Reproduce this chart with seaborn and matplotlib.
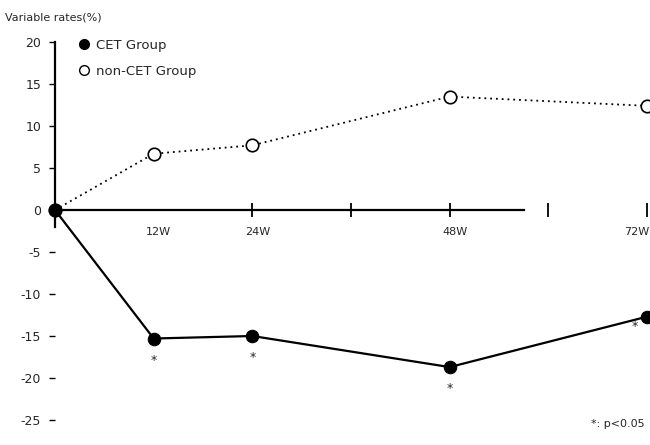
import matplotlib
matplotlib.use("Agg")
import matplotlib.pyplot as plt
from matplotlib.lines import Line2D
import seaborn as sns
import pandas as pd

# Follow-up weeks and relative change (%) for each group
weeks = [0, 12, 24, 48, 72]
week_labels = ["12W", "24W", "48W", "72W"]
cet_change = [0, -15.3, -15.0, -18.7, -12.7]
non_cet_change = [0, 6.7, 7.7, 13.5, 12.4]
y_ticks = [20, 15, 10, 5, 0, -5, -10, -15, -20, -25]
group_names = ["CET Group", "non-CET Group"]

sns.set_theme(style="white")
plt.rcParams["font.family"] = ["DejaVu Sans"]

df = pd.DataFrame({
    "week": weeks * 2,
    "change": cet_change + non_cet_change,
    "group": [group_names[0]] * len(weeks) + [group_names[1]] * len(weeks),
})

fig = plt.figure(figsize=(6.5, 4.45), dpi=100)
ax = fig.add_axes([55 / 650, 25 / 445, (647 - 55) / 650, (420 - 42) / 445])

cet = df[df["group"] == group_names[0]]
non = df[df["group"] == group_names[1]]

sns.lineplot(data=cet, x="week", y="change", ax=ax, color="black",
             linewidth=1.6, marker="o", markersize=9, markeredgecolor="black",
             markerfacecolor="black", clip_on=False, zorder=3)
sns.lineplot(data=non, x="week", y="change", ax=ax, color="black",
             linewidth=1.3, linestyle=(0, (1, 2.2)), marker="o", markersize=9,
             markerfacecolor="white", markeredgecolor="black",
             markeredgewidth=1.2, clip_on=False, zorder=2)

ax.set_xlim(0, 72)
ax.set_ylim(-25, 20)
ax.set_xlabel("")
ax.set_ylabel("")

# Axes: horizontal axis through zero, short vertical spine
for side in ["top", "right"]:
    ax.spines[side].set_visible(False)
ax.spines["bottom"].set_position(("data", 0))
ax.spines["bottom"].set_bounds(0, 57)
ax.spines["left"].set_bounds(-2, 20)
for side in ["bottom", "left"]:
    ax.spines[side].set_color("black")
    ax.spines[side].set_linewidth(1.6)

ax.set_yticks(y_ticks)
ax.set_yticklabels([str(v) for v in y_ticks], fontsize=9)
ax.tick_params(axis="y", direction="out", length=4, width=1, color="black",
               pad=6, left=True)
ax.set_xticks([24, 36, 48, 60, 72])
ax.set_xticklabels([])
ax.tick_params(axis="x", direction="inout", length=10, width=1.3,
               color="black", bottom=True)

# Week labels under the axis
for w, lab in zip(weeks[1:], week_labels):
    if w == 72:
        ax.text(w + 0.3, -2.6, lab, ha="right", va="center", fontsize=8)
    else:
        ax.text(w + 0.6, -2.6, lab, ha="center", va="center", fontsize=8)

# Significance marks under the CET points
for w, v in zip(weeks[1:], cet_change[1:]):
    dx = -1.5 if w == 72 else 0
    dy = -1.2 if w == 72 else -2.6
    ax.text(w + dx, v + dy, "*", ha="center", va="center", fontsize=9)

fig.text(5 / 650, 1 - 18 / 445, "Variable rates(%)", fontsize=8,
         ha="left", va="center")
fig.text(645 / 650, 1 - 424 / 445, "*: p<0.05", fontsize=8,
         ha="right", va="center")

handles = [
    Line2D([], [], linestyle="none", marker="o", color="black",
           markerfacecolor="black", markersize=7),
    Line2D([], [], linestyle="none", marker="o", color="black",
           markerfacecolor="white", markersize=7),
]
ax.legend(handles, group_names, loc="upper left", bbox_to_anchor=(0.02, 1.04),
          frameon=False, fontsize=9.5, handlelength=0.8, handletextpad=0.5,
          labelspacing=1.0)

fig.savefig("out.png", dpi=100, facecolor="white")
